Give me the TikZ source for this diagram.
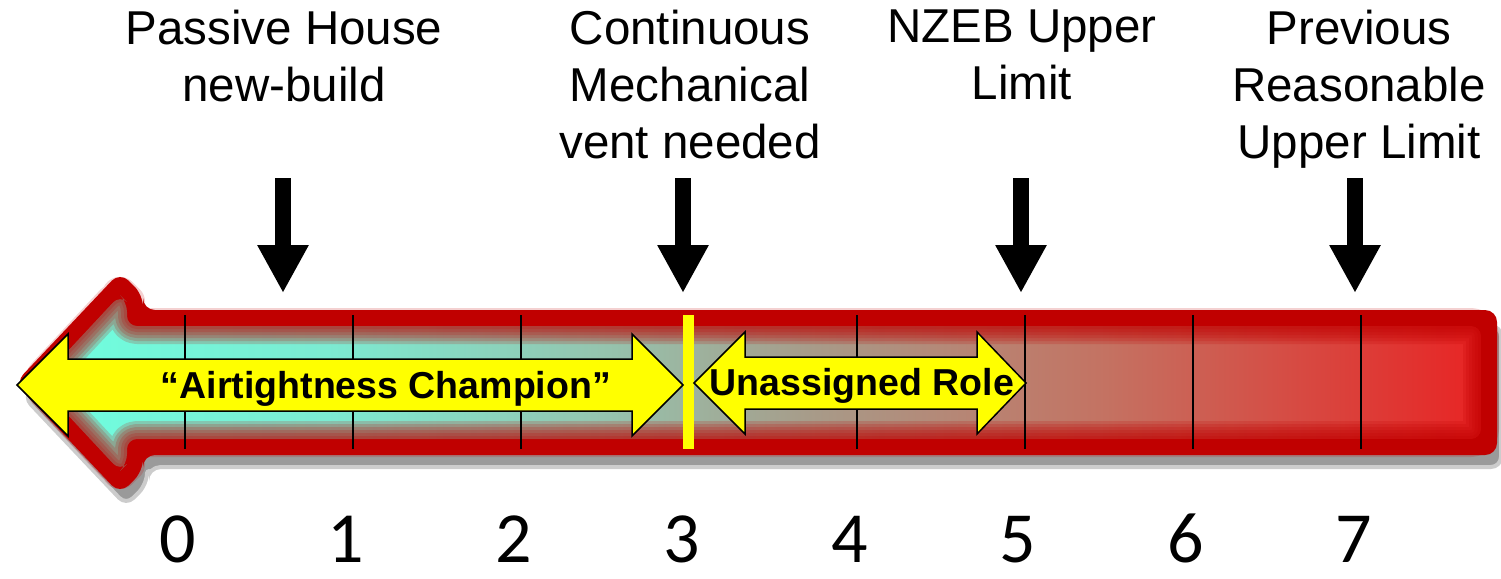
\documentclass[tikz,border=0pt]{standalone}
\usepackage{fontspec}
\setmainfont{Liberation Sans}
\newfontfamily\digitfont{Carlito}
\usetikzlibrary{arrows.meta}
\definecolor{redRim}{HTML}{C00000}
\definecolor{aquaT}{HTML}{6EFFDF}
\definecolor{fadeA}{HTML}{7CEBD2}
\definecolor{fadeB}{HTML}{96C2AC}
\definecolor{fadeC}{HTML}{A89A88}
\definecolor{fadeD}{HTML}{C47262}
\definecolor{fadeE}{HTML}{E82424}
\definecolor{yellowT}{HTML}{FFFF00}
\definecolor{shadowT}{HTML}{9A9A9A}
\pgfdeclarehorizontalshading{barFade}{100bp}{color(0bp)=(aquaT); color(25bp)=(aquaT);
  color(35bp)=(fadeA); color(45bp)=(fadeB); color(52bp)=(fadeC); color(62bp)=(fadeD);
  color(75bp)=(fadeE); color(100bp)=(fadeE)}
\tikzset{
  outerBody/.style={rounded corners=12pt, insert path={(15,383) -- (120,272) -- (143,295)
    -- (143,310) -- (1497,310) -- (1497,455) -- (143,455) -- (143,471) -- (120,494) -- cycle}},
  innerBody/.style={rounded corners=10pt, insert path={(38,383) -- (120,295) -- (127,302)
    -- (127,326) -- (1481,326) -- (1481,439) -- (127,439) -- (127,464) -- (120,471) -- cycle}},
  tick/.style={black, line width=1.5pt},
  roleArrow/.style={draw=black, line width=1.5pt, fill=yellowT},
  roleText/.style={anchor=base, inner sep=0pt, font=\bfseries\fontsize{37.5}{37.5}\selectfont},
  lbl/.style={anchor=north, align=center, inner sep=0pt, font=\fontsize{47.5}{57}\selectfont},
  num/.style={anchor=south, inner sep=0pt, font=\digitfont\fontsize{72}{72}\selectfont},
  pointer/.style={line width=16pt, -{Triangle[length=48pt 0, width=48pt 0]}}
}

\begin{document}
\begin{tikzpicture}[x=1pt,y=-1pt]
  \useasboundingbox (0,0) rectangle (1501,578);
  % shadow and body of the big arrow
  \fill[shadowT, shift={(6,14)}, outerBody];
  \draw[white, opacity=.5, line width=8pt, line join=round, shift={(6,14)}, outerBody];
  \fill[redRim, outerBody];
  \shade[shading=barFade, innerBody];
  \foreach \w in {36,30,24,18,12,6}
    \draw[redRim, opacity=.18, line width=\w pt, line join=round, innerBody];
  % scale ticks
  \foreach \i in {0,...,7}
    \draw[tick] ({185+168*\i},315) -- ({185+168*\i},449);
  \fill[yellowT] (683,315) rectangle (694,449);
  % roles
  \draw[roleArrow] (17,385) -- (68,334) -- (68,359) -- (632,359) -- (632,334) -- (683,385)
    -- (632,436) -- (632,411) -- (68,411) -- (68,436) -- cycle;
  \draw[roleArrow] (694,383) -- (745,332) -- (745,357) -- (977,357) -- (977,332) -- (1026,383)
    -- (977,434) -- (977,409) -- (745,409) -- (745,434) -- cycle;
  \node[roleText] (champ) at (386,398) {“Airtightness Champion”};
  \node[roleText] (unassigned) at (862,395) {Unassigned Role};
  % labels and pointers
  \node[lbl] (passive) at (284,10) {Passive House\\new-build};
  \node[lbl] (mechvent) at (690,10) {Continuous\\Mechanical\\vent needed};
  \node[lbl] (nzeb) at (1022,10) {NZEB Upper\\Limit};
  \node[lbl] (previous) at (1359,10) {Previous\\Reasonable\\Upper Limit};
  \foreach \x [count=\k] in {283,683,1021,1355} {
    \coordinate (top\k) at (\x,178);
    \coordinate (tip\k) at (\x,293);
    \draw[pointer] (top\k) -- (tip\k);
  }
  % numbers
  \foreach \i in {0,...,7}
    \node[num] (n\i) at ({178+168*\i},563) {\i};
\end{tikzpicture}
\end{document}
